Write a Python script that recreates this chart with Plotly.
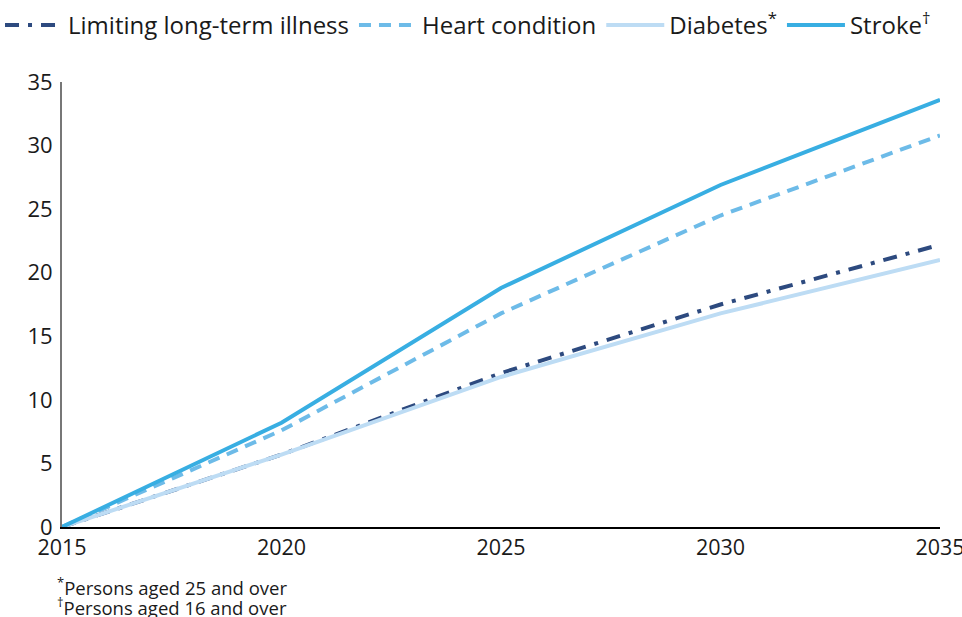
import plotly.graph_objects as go

years = [2015, 2020, 2025, 2030, 2035]
llti = [0, 5.7, 12.1, 17.5, 22.2]
heart = [0, 7.6, 16.8, 24.5, 30.8]
diabetes = [0, 5.7, 11.8, 16.8, 21.0]
stroke = [0, 8.2, 18.8, 26.9, 33.6]

FONT = "Open Sans"
fig = go.Figure()
fig.add_trace(go.Scatter(x=years, y=llti, mode="lines", name="Limiting long-term illness",
                         line=dict(color="#2d4a7f", width=4, dash="14px,9px,4px,9px")))
fig.add_trace(go.Scatter(x=years, y=heart, mode="lines", name="Heart condition",
                         line=dict(color="#6dbbe8", width=4, dash="12px,8px")))
fig.add_trace(go.Scatter(x=years, y=diabetes, mode="lines", name="Diabetes<sup>*</sup>",
                         line=dict(color="#bddcf4", width=4)))
fig.add_trace(go.Scatter(x=years, y=stroke, mode="lines", name="Stroke<sup>†</sup>",
                         line=dict(color="#38aee2", width=4)))

fig.update_layout(
    width=962, height=617,
    margin=dict(l=62, r=22, t=82, b=90, autoexpand=False),
    plot_bgcolor="white", paper_bgcolor="white",
    font=dict(family=FONT, size=22, color="#1a1a1a"),
    showlegend=True,
    legend=dict(orientation="h", xref="paper", yref="paper",
                x=-0.0706, y=1.1775, xanchor="left", yanchor="top",
                font=dict(size=24), itemwidth=58, tracegroupgap=0,
                bgcolor="rgba(0,0,0,0)"),
    xaxis=dict(range=[2015, 2035], tickvals=[2015, 2020, 2025, 2030, 2035],
               showgrid=False, zeroline=False, showline=True, linecolor="#000000",
               linewidth=1.5, ticks="", tickfont=dict(size=21.5),
               ticklabeloverflow="allow"),
    yaxis=dict(range=[0, 35], tickvals=[0, 5, 10, 15, 20, 25, 30, 35],
               showgrid=False, zeroline=False, showline=True, linecolor="#777777",
               linewidth=2, ticks="", tickfont=dict(size=22), ticklabelstandoff=3),
)
fig.add_annotation(text="<sup>*</sup>Persons aged 25 and over", xref="paper", yref="paper",
                   x=-0.008, y=-0.133, xanchor="left", yanchor="middle", showarrow=False,
                   font=dict(size=18.5))
fig.add_annotation(text="<sup>†</sup>Persons aged 16 and over", xref="paper", yref="paper",
                   x=-0.008, y=-0.178, xanchor="left", yanchor="middle", showarrow=False,
                   font=dict(size=18.5))
fig.write_html("out.html", config={"displayModeBar": False},
               post_script="document.body.style.margin='0';document.body.style.overflow='hidden';")
